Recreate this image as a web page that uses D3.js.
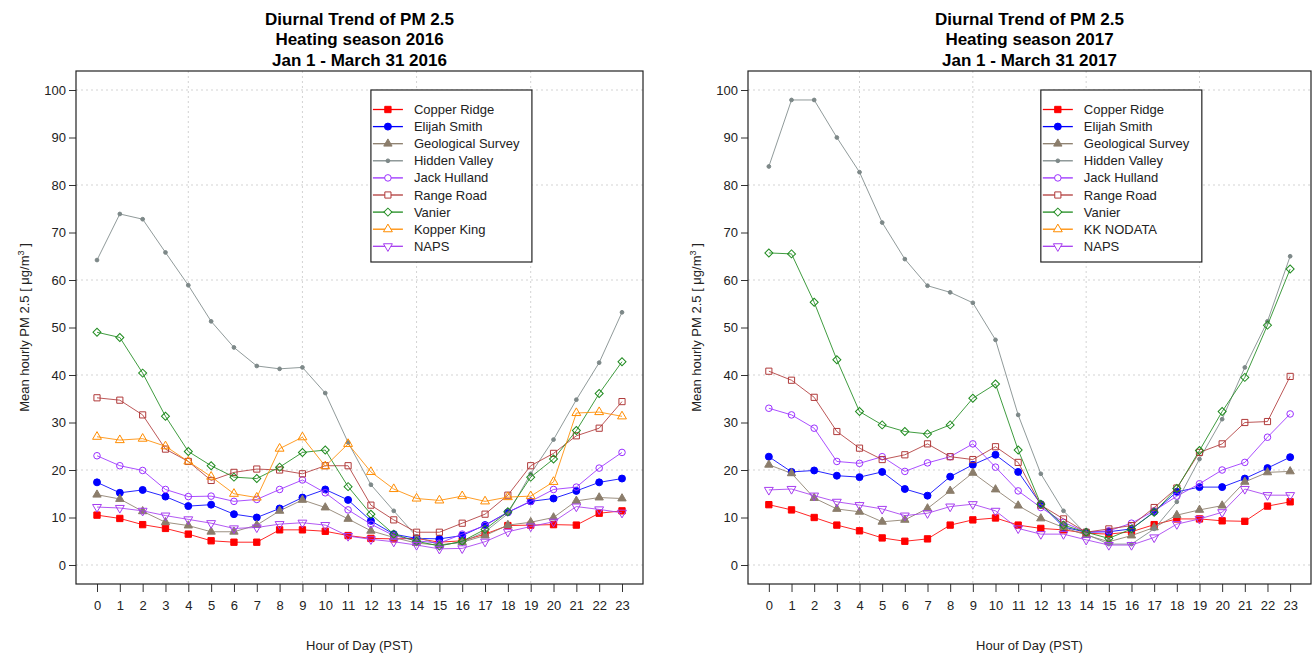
<!DOCTYPE html>
<html lang="en">
<head>
<meta charset="UTF-8">
<title>Diurnal Trend of PM 2.5</title>
<script src="https://cdn.jsdelivr.net/npm/d3@7"></script>
<style>
	body { margin: 0; background: #fff; }
	text { font-family: "Liberation Sans", Arial, sans-serif; fill: #222; }
</style>
</head>
<body>
<svg id="chart" width="1313" height="656"></svg>
<script>
// hours on the x axis
var hours = [0,1,2,3,4,5,6,7,8,9,10,11,12,13,14,15,16,17,18,19,20,21,22,23];
var yTicks = [0,10,20,30,40,50,60,70,80,90,100];

// 2016 heating season, mean hourly PM 2.5
var copperRidge16 = [10.5,9.8,8.5,7.7,6.5,5.1,4.8,4.8,7.4,7.4,7.1,6.2,5.6,5.5,5.6,4.8,5.1,6.5,8.3,8.4,8.5,8.4,10.9,11.4];
var elijahSmith16 = [17.4,15.2,15.8,14.4,12.4,12.7,10.7,10.0,11.9,14.2,15.9,13.7,9.3,6.5,5.6,5.5,6.2,8.4,11.1,13.4,14.0,15.6,17.4,18.2];
var geoSurvey16 = [14.8,13.9,11.3,9.0,8.3,7.0,7.0,8.4,11.4,13.7,12.1,9.7,7.2,5.8,4.6,4.2,4.8,6.2,8.4,9.0,10.0,13.5,14.2,14.0];
var hiddenValley16 = [64.2,73.9,72.8,65.8,58.9,51.3,45.8,41.9,41.3,41.6,36.2,25.8,16.9,11.4,6.0,4.2,4.8,7.0,10.8,19.2,26.4,34.8,42.6,53.2];
var jackHulland16 = [23.0,20.9,19.9,15.9,14.4,14.5,13.4,13.8,15.9,17.9,15.2,11.6,8.6,6.2,5.1,4.6,6.5,8.3,11.1,13.4,15.9,16.4,20.4,23.7];
var rangeRoad16 = [35.2,34.7,31.6,24.4,21.8,17.8,19.5,20.2,20.0,19.2,20.9,20.9,12.6,9.5,6.9,6.9,8.8,10.7,14.7,20.9,23.5,27.2,28.8,34.4];
var vanier16 = [49.0,47.9,40.4,31.3,23.9,20.9,18.5,18.2,20.6,23.7,24.2,16.5,10.7,6.5,5.0,4.0,5.0,7.5,11.2,18.5,22.3,28.3,36.1,42.8];
var kopperKing16 = [27.0,26.3,26.6,25.0,21.8,18.6,15.0,14.2,24.5,26.9,20.8,25.5,19.6,16.0,14.0,13.6,14.5,13.4,14.3,14.5,17.5,32.0,32.2,31.3];
var naps16 = [12.2,12.0,11.4,10.4,9.6,8.8,7.7,7.9,8.6,8.9,8.4,6.1,5.4,4.9,4.2,3.4,3.5,4.9,7.0,8.1,9.1,12.3,11.7,11.0];

// 2017 heating season (no Kopper King data)
var copperRidge17 = [12.7,11.6,10.0,8.4,7.2,5.7,5.0,5.5,8.4,9.5,9.9,8.4,7.7,7.4,6.7,6.5,7.0,8.5,9.7,9.7,9.3,9.2,12.4,13.3];
var elijahSmith17 = [22.8,19.6,19.9,18.8,18.5,19.6,16.0,14.6,18.6,21.1,23.2,19.6,12.8,8.0,6.9,7.0,7.6,11.2,15.4,16.4,16.4,18.2,20.4,22.7];
var geoSurvey17 = [21.1,19.3,14.1,11.8,11.2,9.1,9.5,11.9,15.6,19.4,15.9,12.5,9.8,7.9,6.3,4.9,6.2,7.9,10.5,11.6,12.5,17.5,19.5,19.7];
var hiddenValley17 = [83.9,97.9,97.9,90.0,82.7,72.1,64.4,58.8,57.4,55.2,47.4,31.6,19.2,11.4,6.5,4.4,4.4,7.6,13.3,22.3,30.7,41.6,51.3,65.0];
var jackHulland17 = [33.0,31.6,28.8,21.8,21.4,22.8,19.7,21.5,22.8,25.5,20.6,15.6,12.1,9.0,6.9,7.2,8.8,11.4,14.5,17.1,20.0,21.6,26.9,31.8];
var rangeRoad17 = [40.8,38.9,35.3,28.1,24.6,22.2,23.2,25.5,22.8,22.2,24.9,21.6,12.6,9.7,6.9,7.6,8.3,12.1,16.2,23.7,25.5,30.0,30.2,39.7];
var vanier17 = [65.7,65.5,55.3,43.2,32.3,29.5,28.1,27.6,29.5,35.1,38.1,24.2,12.8,8.4,6.9,5.6,7.6,11.1,16.1,24.1,32.3,39.5,50.5,62.3];
var kopperKing17 = [];
var naps17 = [15.8,16.0,14.6,13.3,12.6,11.8,10.4,10.9,12.3,12.8,11.4,7.7,6.5,6.5,5.3,4.2,4.2,5.8,8.6,9.7,11.1,16.0,14.7,14.7];

var names16 = ["Copper Ridge","Elijah Smith","Geological Survey","Hidden Valley","Jack Hulland","Range Road","Vanier","Kopper King","NAPS"];
var names17 = ["Copper Ridge","Elijah Smith","Geological Survey","Hidden Valley","Jack Hulland","Range Road","Vanier","KK NODATA","NAPS"];

// marker style per station, same order as the names
var styles = [
	{ color: "#ff0000", shape: "square", filled: true, size: 40 },
	{ color: "#0000ff", shape: "circle", filled: true, size: 38 },
	{ color: "#8b7d6b", shape: "triangle", filled: true, size: 30 },
	{ color: "#7d8888", shape: "circle", filled: true, size: 11 },
	{ color: "#9b30ff", shape: "circle", filled: false, size: 34 },
	{ color: "#b03a3a", shape: "square", filled: false, size: 38 },
	{ color: "#1f8b1f", shape: "diamond", filled: false, size: 32 },
	{ color: "#ff8c00", shape: "triangle", filled: false, size: 34 },
	{ color: "#a63cf0", shape: "triangleDown", filled: false, size: 34 }
];

var svg = d3.select("#chart");

function symbolPath(st) {
	var type = d3.symbolCircle;
	if (st.shape == "square" || st.shape == "diamond") type = d3.symbolSquare;
	if (st.shape == "triangle" || st.shape == "triangleDown") type = d3.symbolTriangle;
	return d3.symbol().type(type).size(st.size)();
}
function symbolRotate(st) {
	if (st.shape == "diamond") return 45;
	if (st.shape == "triangleDown") return 180;
	return 0;
}

function drawPanel(p) {
	var x = d3.scaleLinear().domain([-0.92, 23.92]).range([p.left, p.right]);
	var y = d3.scaleLinear().domain([-4, 104]).range([584, 71]);
	var g = svg.append("g");

	// title, three lines
	var cx = (p.left + p.right) / 2;
	p.title.forEach(function(t, i) {
		g.append("text")
			.attr("x", cx).attr("y", 24.5 + i * 20.8)
			.attr("text-anchor", "middle")
			.style("font-size", "17px").style("font-weight", "bold")
			.style("fill", "#000")
			.text(t);
	});

	// dotted grid
	g.selectAll(".vgrid").data([4, 9, 14, 19]).enter().append("line")
		.attr("x1", function(d) { return x(d); }).attr("x2", function(d) { return x(d); })
		.attr("y1", y(104)).attr("y2", y(-4))
		.attr("stroke", "#d3d3d3").attr("stroke-dasharray", "2,3");
	g.selectAll(".hgrid").data([0, 20, 40, 60, 80, 100]).enter().append("line")
		.attr("x1", p.left).attr("x2", p.right)
		.attr("y1", function(d) { return y(d); }).attr("y2", function(d) { return y(d); })
		.attr("stroke", "#d3d3d3").attr("stroke-dasharray", "2,3");

	// axes
	var ay = g.append("g").attr("transform", "translate(" + p.left + ",0)")
		.call(d3.axisLeft(y).tickValues(yTicks).tickSize(7).tickPadding(3));
	var ax = g.append("g").attr("transform", "translate(0,584)")
		.call(d3.axisBottom(x).tickValues(hours).tickSize(8).tickPadding(9));
	[ax, ay].forEach(function(a) {
		a.select(".domain").remove();
		a.selectAll("line").attr("stroke", "#333");
		a.selectAll("text").style("font-size", "13px").style("font-family", "'Liberation Sans', Arial, sans-serif").attr("fill", "#222");
	});

	// station lines and markers
	p.series.forEach(function(vals, i) {
		var st = styles[i];
		if (!vals.length) return;
		var line = d3.line()
			.x(function(d, j) { return x(hours[j]); })
			.y(function(d) { return y(d); });
		g.append("path").datum(vals)
			.attr("d", line)
			.attr("fill", "none")
			.attr("stroke", st.color)
			.attr("stroke-width", 1)
			.attr("stroke-opacity", 0.85);
		g.selectAll(".pt" + i).data(vals).enter().append("path")
			.attr("d", symbolPath(st))
			.attr("transform", function(d, j) {
				return "translate(" + x(hours[j]) + "," + y(d) + ") rotate(" + symbolRotate(st) + ")";
			})
			.attr("fill", st.filled ? st.color : "none")
			.attr("stroke", st.color)
			.attr("stroke-width", 1);
	});

	// plot box
	g.append("rect")
		.attr("x", p.left).attr("y", 71)
		.attr("width", p.right - p.left).attr("height", 584 - 71)
		.attr("fill", "none").attr("stroke", "#222").attr("stroke-width", 1.2);

	// legend, top-left corner at hour 12 / value 100
	var lx = x(12), ly = y(100);
	var leg = g.append("g").attr("transform", "translate(" + lx + "," + ly + ")");
	leg.append("rect")
		.attr("width", 161).attr("height", 172)
		.attr("fill", "#fff").attr("stroke", "#222").attr("stroke-width", 1.2);
	p.names.forEach(function(n, i) {
		var st = styles[i];
		var ry = 19.5 + i * 17.1;
		leg.append("line")
			.attr("x1", 2).attr("x2", 32).attr("y1", ry).attr("y2", ry)
			.attr("stroke", st.color).attr("stroke-width", 1.3);
		leg.append("path")
			.attr("d", symbolPath(st))
			.attr("transform", "translate(17," + ry + ") rotate(" + symbolRotate(st) + ")")
			.attr("fill", st.filled ? st.color : "#fff")
			.attr("stroke", st.color);
		leg.append("text")
			.attr("x", 43).attr("y", ry + 4.5)
			.style("font-size", "13px")
			.text(n);
	});

	// axis labels
	g.append("text")
		.attr("x", cx).attr("y", 650)
		.attr("text-anchor", "middle")
		.style("font-size", "13px")
		.text("Hour of Day (PST)");
	var yl = g.append("text")
		.attr("transform", "translate(" + (p.left - 47) + "," + ((71 + 584) / 2) + ") rotate(-90)")
		.attr("text-anchor", "middle")
		.style("font-size", "13px");
	yl.append("tspan").text("Mean hourly PM 2.5 [ \u03bcg/m");
	yl.append("tspan").attr("dy", -5).style("font-size", "9px").text("3");
	yl.append("tspan").attr("dy", 5).text(" ]");
}

drawPanel({
	left: 76, right: 643,
	title: ["Diurnal Trend of PM 2.5", "Heating season 2016", "Jan 1 - March 31 2016"],
	names: names16,
	series: [copperRidge16, elijahSmith16, geoSurvey16, hiddenValley16, jackHulland16, rangeRoad16, vanier16, kopperKing16, naps16]
});
drawPanel({
	left: 748, right: 1311,
	title: ["Diurnal Trend of PM 2.5", "Heating season 2017", "Jan 1 - March 31 2017"],
	names: names17,
	series: [copperRidge17, elijahSmith17, geoSurvey17, hiddenValley17, jackHulland17, rangeRoad17, vanier17, kopperKing17, naps17]
});
</script>
</body>
</html>
